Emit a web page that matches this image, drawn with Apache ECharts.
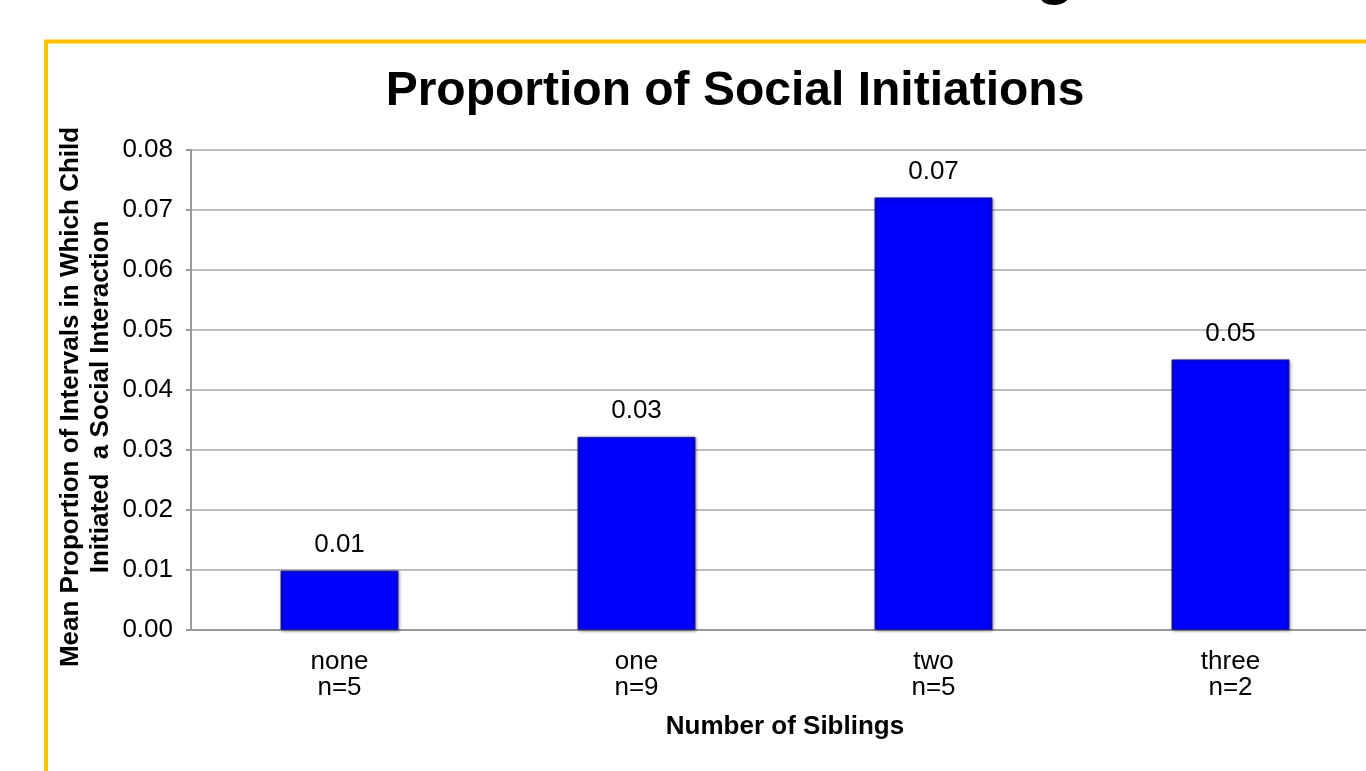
<!DOCTYPE html>
<html>
<head>
<meta charset="utf-8">
<script src="https://cdn.jsdelivr.net/npm/echarts@6/dist/echarts.min.js"></script>
<style>
html,body{margin:0;padding:0;background:#fff;}
#c{width:1366px;height:771px;}
</style>
</head>
<body>
<div id="c"></div>
<script>
const categories = ['none\nn=5', 'one\nn=9', 'two\nn=5', 'three\nn=2'];
const values = [0.0099, 0.0322, 0.0721, 0.0451];
const yTicks = { min: 0, max: 0.08, interval: 0.01 };
const titleText = 'Proportion of Social Initiations';
const yName = 'Mean Proportion of Intervals in Which Child\nInitiated  a Social Interaction';
const xName = 'Number of Siblings';

const FONT = '"Liberation Sans", Arial, Helvetica, sans-serif';
const chart = echarts.init(document.getElementById('c'), null, { renderer: 'canvas' });
chart.setOption({
  animation: false,
  backgroundColor: '#fff',
  textStyle: { fontFamily: FONT },
  title: {
    text: titleText,
    left: 730, top: 63,
    textAlign: 'center',
    textStyle: { fontFamily: FONT, fontWeight: 'bold', fontSize: 48, color: '#000' }
  },
  graphic: [
    { type: 'rect', shape: { x: 46, y: 41.5, width: 3000, height: 3000 },
      style: { fill: 'none', stroke: '#FFC000', lineWidth: 4 }, silent: true },
    { type: 'text', x: 1055, y: 6,
      style: { text: 'g', font: 'bold 64px ' + FONT, fill: '#000', align: 'center', verticalAlign: 'bottom' }, silent: true },
    { type: 'text', x: 86, y: 397, rotation: Math.PI / 2,
      style: { text: yName, font: 'bold 26px ' + FONT, fill: '#000', align: 'center', verticalAlign: 'middle', lineHeight: 30 }, silent: true }
  ],
  grid: { left: 191, top: 150, width: 1188, height: 480, outerBoundsMode: 'none', containLabel: false },
  xAxis: {
    type: 'category',
    data: categories,
    name: xName,
    nameLocation: 'middle',
    nameGap: 84,
    nameTextStyle: { fontFamily: FONT, fontWeight: 'bold', fontSize: 26, color: '#000' },
    axisLine: { lineStyle: { color: '#9a9a9a', width: 2 } },
    axisTick: { show: false },
    axisLabel: { fontFamily: FONT, fontSize: 26, color: '#000', margin: 19, lineHeight: 26 }
  },
  yAxis: {
    type: 'value',
    min: yTicks.min, max: yTicks.max, interval: yTicks.interval,
    axisLine: { show: true, lineStyle: { color: '#9a9a9a', width: 2 } },
    axisTick: { show: true, length: 5, lineStyle: { color: '#9a9a9a', width: 2 } },
    axisLabel: { fontFamily: FONT, fontSize: 26, color: '#000', margin: 18,
      formatter: v => v.toFixed(2) },
    splitLine: { lineStyle: { color: '#a6a6a6', width: 1.5 } }
  },
  series: [{
    type: 'bar',
    data: values,
    barWidth: 118,
    itemStyle: {
      color: {
        type: 'linear', x: 0, y: 0, x2: 1, y2: 0,
        colorStops: [
          { offset: 0, color: '#0000c8' },
          { offset: 0.04, color: '#0000ff' },
          { offset: 0.96, color: '#0000ff' },
          { offset: 1, color: '#0000c0' }
        ]
      },
      borderColor: '#2020a0',
      borderWidth: 1,
      shadowBlur: 3,
      shadowColor: 'rgba(0,0,0,0.35)',
      shadowOffsetX: 1,
      shadowOffsetY: 1
    },
    label: {
      show: true, position: 'top', distance: 13,
      fontFamily: FONT, fontSize: 26, color: '#000',
      formatter: p => p.value.toFixed(2)
    }
  }]
});
</script>
</body>
</html>
